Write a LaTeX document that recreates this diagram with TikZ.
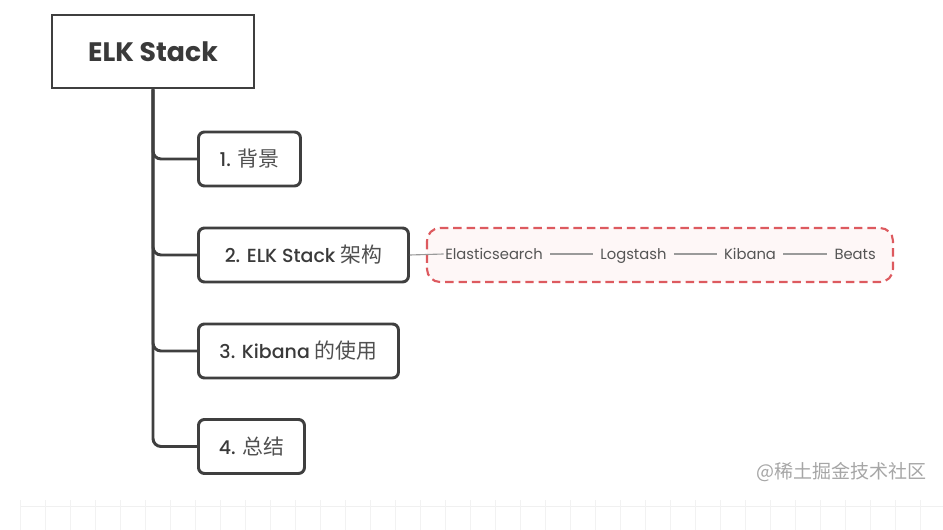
\documentclass[tikz,border=0pt]{standalone}
\usepackage{fontspec}
\setmainfont{Poppins}
\newfontfamily\medium{Poppins Medium}
\newfontfamily\cjk[Scale=1.1]{Noto Sans CJK SC}
\usetikzlibrary{positioning}
\definecolor{boxline}{HTML}{3F3F3F}
\definecolor{boxtext}{HTML}{3A3A3A}
\definecolor{cjktext}{HTML}{505050}
\definecolor{leaftext}{HTML}{555555}
\definecolor{linkgray}{HTML}{9A9A9A}
\definecolor{groupred}{HTML}{DD5A5F}
\definecolor{groupfill}{HTML}{FEF7F7}
\newcommand{\px}{0.025cm}
\newcommand{\zh}[1]{{\cjk\color{cjktext}#1}}
\tikzset{topic/.style={draw=boxline,line width=2.1pt,fill=white,minimum width=202*\px,minimum height=73*\px,font=\fontsize{19}{22}\selectfont\bfseries,text=boxtext},
sub/.style={draw=boxline,line width=2.1pt,rounded corners=6*\px,fill=white,minimum height=54*\px,anchor=west,font=\medium\fontsize{13.5}{16}\selectfont,text=boxtext},
leaf/.style={inner sep=0pt,text height=1.6ex,text depth=0.3ex,font=\fontsize{10.5}{12}\selectfont,text=leaftext},
branch/.style={draw=boxline,line width=2.1pt,rounded corners=8*\px},
link/.style={draw=linkgray,line width=0.8pt},
group/.style={draw=groupred,dashed,dash pattern=on 6pt off 3.5pt,line width=1.5pt,rounded corners=13*\px,fill=groupfill}}

\begin{document}
\begin{tikzpicture}[x=\px,y=-\px]
\useasboundingbox (0,0) rectangle (943,530);
% faint grid at the bottom
\draw[black!6,line width=0.6pt] (20,506) -- (943,506);
\foreach \gx in {20,45,...,943} \draw[black!5,line width=0.6pt] (\gx,500) -- (\gx,530);
% main topic and subtopics
\node[topic] (elk) at (153,51.5) {ELK Stack};
\node[sub,minimum width=102*\px] (bg) at (197,159) {1. \zh{背景}};
\node[sub,minimum width=210*\px] (arch) at (197,255) {2. ELK Stack \zh{架构}};
\node[sub,minimum width=200*\px] (kib) at (197,351) {3. Kibana \zh{的使用}};
\node[sub,minimum width=106*\px] (sum) at (197,446.5) {4. \zh{总结}};
\foreach \t in {sum,kib,arch,bg}
  \draw[branch] (elk.south) |- (\t.west);
% components of the stack
\draw[group] (427,228) rectangle (893,282);
\node[leaf,anchor=west] (es) at (445,254) {Elasticsearch};
\node[leaf,right=57*\px of es] (ls) {Logstash};
\node[leaf,right=57*\px of ls] (kb) {Kibana};
\node[leaf,right=58*\px of kb] (bt) {Beats};
\draw[link] (arch.east) -- ([xshift=-1pt]es.west);
\draw[link,shorten <=7*\px,shorten >=7*\px] (es) -- (ls);
\draw[link,shorten <=7*\px,shorten >=7*\px] (ls) -- (kb);
\draw[link,shorten <=7*\px,shorten >=7*\px] (kb) -- (bt);
% watermark
\node[anchor=east,text=black!35,font=\cjk\fontsize{12.3}{15}\selectfont,inner sep=0pt] (mark) at (927,472) {@稀土掘金技术社区};
\end{tikzpicture}
\end{document}
